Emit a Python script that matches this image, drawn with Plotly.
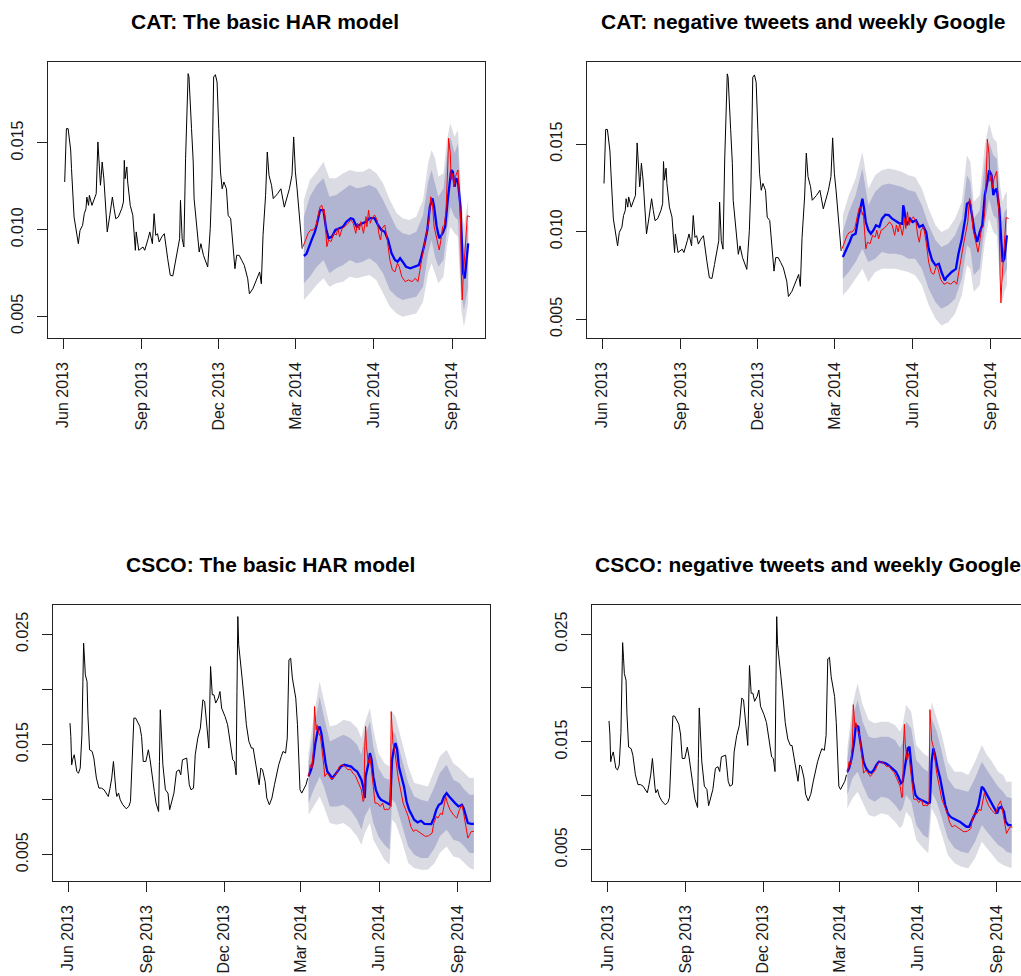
import plotly.graph_objects as go

W, H = 1021, 976

# ------------------------------------------------------------------ data
# CAT realised volatility (in-sample, black)
cat_hist = [
    ("2013-06-03", 0.01275), ("2013-06-04", 0.01448), ("2013-06-05", 0.01583), ("2013-06-07", 0.01583),
    ("2013-06-10", 0.01460), ("2013-06-11", 0.01352), ("2013-06-13", 0.01179), ("2013-06-14", 0.01073),
    ("2013-06-19", 0.00919), ("2013-06-21", 0.00996), ("2013-06-24", 0.01025), ("2013-06-26", 0.01092),
    ("2013-06-28", 0.01121), ("2013-06-29", 0.01188), ("2013-07-01", 0.01140), ("2013-07-02", 0.01198),
    ("2013-07-05", 0.01140), ("2013-07-08", 0.01188), ("2013-07-10", 0.01207), ("2013-07-12", 0.01506),
    ("2013-07-13", 0.01390), ("2013-07-15", 0.01256), ("2013-07-16", 0.01314), ("2013-07-17", 0.01390),
    ("2013-07-19", 0.01294), ("2013-07-21", 0.01160), ("2013-07-23", 0.00987), ("2013-07-26", 0.01083),
    ("2013-07-29", 0.01188), ("2013-07-31", 0.01121), ("2013-08-02", 0.01063), ("2013-08-05", 0.01073),
    ("2013-08-09", 0.01121), ("2013-08-11", 0.01160), ("2013-08-12", 0.01400), ("2013-08-13", 0.01294),
    ("2013-08-15", 0.01362), ("2013-08-16", 0.01275), ("2013-08-19", 0.01140), ("2013-08-22", 0.01083),
    ("2013-08-24", 0.00929), ("2013-08-25", 0.00881), ("2013-08-26", 0.00987), ("2013-08-29", 0.00881),
    ("2013-09-03", 0.00900), ("2013-09-05", 0.00881), ("2013-09-09", 0.00948), ("2013-09-11", 0.00987),
    ("2013-09-14", 0.00919), ("2013-09-16", 0.01092), ("2013-09-18", 0.00967), ("2013-09-20", 0.00977),
    ("2013-09-22", 0.00929), ("2013-09-25", 0.00958), ("2013-09-28", 0.00977), ("2013-09-30", 0.00890),
    ("2013-10-02", 0.00832), ("2013-10-05", 0.00737), ("2013-10-08", 0.00733), ("2013-10-11", 0.00813),
    ("2013-10-14", 0.00900), ("2013-10-16", 0.00948), ("2013-10-17", 0.01169), ("2013-10-19", 0.00948),
    ("2013-10-21", 0.00900), ("2013-10-23", 0.01409), ("2013-10-26", 0.01900), ("2013-10-27", 0.01881),
    ("2013-10-30", 0.01583), ("2013-11-01", 0.01390), ("2013-11-02", 0.01179), ("2013-11-05", 0.01025),
    ("2013-11-08", 0.00871), ("2013-11-10", 0.00919), ("2013-11-13", 0.00852), ("2013-11-18", 0.00785),
    ("2013-11-21", 0.01006), ("2013-11-23", 0.01294), ("2013-11-25", 0.01881), ("2013-11-27", 0.01894),
    ("2013-11-29", 0.01852), ("2013-12-01", 0.01583), ("2013-12-03", 0.01333), ("2013-12-05", 0.01236),
    ("2013-12-07", 0.01275), ("2013-12-10", 0.01236), ("2013-12-12", 0.01083), ("2013-12-15", 0.01063),
    ("2013-12-17", 0.00929), ("2013-12-20", 0.00775), ("2013-12-22", 0.00852), ("2013-12-25", 0.00852),
    ("2013-12-28", 0.00823), ("2013-12-31", 0.00794), ("2014-01-04", 0.00717), ("2014-01-06", 0.00630),
    ("2014-01-10", 0.00659), ("2014-01-15", 0.00727), ("2014-01-18", 0.00756), ("2014-01-20", 0.00688),
    ("2014-01-22", 0.00967), ("2014-01-25", 0.01198), ("2014-01-27", 0.01448), ("2014-01-29", 0.01314),
    ("2014-02-01", 0.01256), ("2014-02-03", 0.01179), ("2014-02-05", 0.01188), ("2014-02-08", 0.01207),
    ("2014-02-12", 0.01236), ("2014-02-16", 0.01130), ("2014-02-22", 0.01236), ("2014-02-25", 0.01314),
    ("2014-02-27", 0.01535), ("2014-03-01", 0.01333), ("2014-03-03", 0.01236), ("2014-03-06", 0.01044),
    ("2014-03-09", 0.00890),
]

# CAT realised volatility (out-of-sample, red)
cat_test = [
    ("2014-03-10", 0.00902), ("2014-03-13", 0.00940), ("2014-03-16", 0.00979), ("2014-03-19", 0.00998),
    ("2014-03-22", 0.00998), ("2014-03-25", 0.01017), ("2014-03-28", 0.01085), ("2014-03-30", 0.01132),
    ("2014-04-01", 0.01142), ("2014-04-03", 0.01094), ("2014-04-04", 0.01113), ("2014-04-06", 0.00940),
    ("2014-04-07", 0.00902), ("2014-04-09", 0.00940), ("2014-04-12", 0.00931), ("2014-04-15", 0.00979),
    ("2014-04-18", 0.00969), ("2014-04-20", 0.01008), ("2014-04-22", 0.00959), ("2014-04-25", 0.01008),
    ("2014-04-28", 0.01017), ("2014-05-02", 0.01037), ("2014-05-05", 0.01056), ("2014-05-08", 0.01037),
    ("2014-05-11", 0.00979), ("2014-05-13", 0.01037), ("2014-05-15", 0.00998), ("2014-05-17", 0.01046),
    ("2014-05-20", 0.00979), ("2014-05-23", 0.01075), ("2014-05-24", 0.01017), ("2014-05-26", 0.01113),
    ("2014-05-28", 0.01037), ("2014-05-30", 0.01066), ("2014-06-02", 0.01085), ("2014-06-05", 0.01056),
    ("2014-06-07", 0.00979), ("2014-06-09", 0.00940), ("2014-06-11", 0.01008), ("2014-06-14", 0.01027),
    ("2014-06-17", 0.00940), ("2014-06-20", 0.00825), ("2014-06-23", 0.00767), ("2014-06-26", 0.00757),
    ("2014-06-29", 0.00806), ("2014-07-01", 0.00786), ("2014-07-04", 0.00729), ("2014-07-08", 0.00700),
    ("2014-07-12", 0.00710), ("2014-07-16", 0.00700), ("2014-07-20", 0.00719), ("2014-07-23", 0.00700),
    ("2014-07-25", 0.00767), ("2014-07-28", 0.00844), ("2014-07-30", 0.00902), ("2014-08-02", 0.00979),
    ("2014-08-05", 0.01056), ("2014-08-07", 0.01190), ("2014-08-09", 0.01152), ("2014-08-11", 0.01017),
    ("2014-08-14", 0.00940), ("2014-08-17", 0.00883), ("2014-08-19", 0.00940), ("2014-08-21", 0.01017),
    ("2014-08-23", 0.01027), ("2014-08-25", 0.01113), ("2014-08-27", 0.01363), ("2014-08-28", 0.01527),
    ("2014-08-30", 0.01441), ("2014-08-31", 0.01287), ("2014-09-02", 0.01325), ("2014-09-03", 0.01248),
    ("2014-09-05", 0.01306), ("2014-09-08", 0.01344), ("2014-09-09", 0.01248), ("2014-09-11", 0.01075),
    ("2014-09-12", 0.00748), ("2014-09-13", 0.00594), ("2014-09-14", 0.00710), ("2014-09-16", 0.00883),
    ("2014-09-17", 0.00979), ("2014-09-19", 0.01080), ("2014-09-22", 0.01075),
]

# CAT forecast: basic HAR model (blue)
cat_har_mean = [
    ("2014-03-11", 0.00848), ("2014-03-14", 0.00860), ("2014-03-20", 0.00940), ("2014-03-24", 0.00988),
    ("2014-03-26", 0.01027), ("2014-03-30", 0.01113), ("2014-04-03", 0.01113), ("2014-04-06", 0.01008),
    ("2014-04-09", 0.00950), ("2014-04-13", 0.00960), ("2014-04-17", 0.00998), ("2014-04-21", 0.01008),
    ("2014-04-26", 0.01017), ("2014-04-30", 0.01046), ("2014-05-05", 0.01066), ("2014-05-08", 0.01060),
    ("2014-05-12", 0.01017), ("2014-05-17", 0.01033), ("2014-05-23", 0.01046), ("2014-05-27", 0.01066),
    ("2014-06-02", 0.01066), ("2014-06-06", 0.01027), ("2014-06-10", 0.00998), ("2014-06-14", 0.00988),
    ("2014-06-18", 0.00940), ("2014-06-22", 0.00864), ("2014-06-26", 0.00825), ("2014-06-29", 0.00815),
    ("2014-07-02", 0.00835), ("2014-07-05", 0.00815), ("2014-07-09", 0.00786), ("2014-07-14", 0.00777),
    ("2014-07-20", 0.00790), ("2014-07-24", 0.00796), ("2014-07-26", 0.00825), ("2014-07-30", 0.00902),
    ("2014-08-03", 0.00998), ("2014-08-06", 0.01132), ("2014-08-09", 0.01181), ("2014-08-11", 0.01132),
    ("2014-08-14", 0.01017), ("2014-08-17", 0.00950), ("2014-08-21", 0.00979), ("2014-08-24", 0.01017),
    ("2014-08-27", 0.01171), ("2014-08-30", 0.01287), ("2014-08-31", 0.01344), ("2014-09-02", 0.01334),
    ("2014-09-04", 0.01248), ("2014-09-06", 0.01296), ("2014-09-08", 0.01277), ("2014-09-11", 0.01132),
    ("2014-09-13", 0.00883), ("2014-09-14", 0.00748), ("2014-09-16", 0.00719), ("2014-09-18", 0.00825),
    ("2014-09-20", 0.00921),
]
# CAT basic HAR bands: date, 95% hi, 80% hi, 80% lo, 95% lo
cat_har_bands = [
    ("2014-03-11", 0.01171, 0.01075, 0.00691, 0.00594), ("2014-03-18", 0.01287, 0.01190, 0.00729, 0.00633),
    ("2014-03-26", 0.01334, 0.01258, 0.00786, 0.00681), ("2014-04-03", 0.01392, 0.01296, 0.00825, 0.00719),
    ("2014-04-10", 0.01296, 0.01190, 0.00748, 0.00671), ("2014-04-18", 0.01296, 0.01200, 0.00777, 0.00691),
    ("2014-04-26", 0.01325, 0.01229, 0.00796, 0.00700), ("2014-05-04", 0.01344, 0.01258, 0.00825, 0.00729),
    ("2014-05-12", 0.01334, 0.01239, 0.00806, 0.00719), ("2014-05-19", 0.01334, 0.01244, 0.00815, 0.00729),
    ("2014-05-27", 0.01354, 0.01258, 0.00835, 0.00738), ("2014-06-04", 0.01325, 0.01239, 0.00806, 0.00710),
    ("2014-06-12", 0.01268, 0.01171, 0.00748, 0.00633), ("2014-06-20", 0.01171, 0.01085, 0.00652, 0.00555),
    ("2014-06-28", 0.01094, 0.01008, 0.00613, 0.00517), ("2014-07-05", 0.01066, 0.00979, 0.00594, 0.00498),
    ("2014-07-13", 0.01056, 0.00969, 0.00604, 0.00508), ("2014-07-21", 0.01075, 0.00988, 0.00613, 0.00517),
    ("2014-07-29", 0.01171, 0.01085, 0.00671, 0.00584), ("2014-08-04", 0.01383, 0.01277, 0.00864, 0.00748),
    ("2014-08-08", 0.01460, 0.01344, 0.00940, 0.00806), ("2014-08-12", 0.01412, 0.01268, 0.00844, 0.00748),
    ("2014-08-16", 0.01306, 0.01190, 0.00786, 0.00691), ("2014-08-22", 0.01325, 0.01239, 0.00825, 0.00729),
    ("2014-08-26", 0.01517, 0.01421, 0.00998, 0.00902), ("2014-08-30", 0.01614, 0.01536, 0.01132, 0.01017),
    ("2014-09-04", 0.01536, 0.01441, 0.01075, 0.00979), ("2014-09-08", 0.01575, 0.01498, 0.01056, 0.00959),
    ("2014-09-12", 0.01171, 0.01056, 0.00633, 0.00536), ("2014-09-15", 0.01017, 0.00883, 0.00536, 0.00440),
    ("2014-09-18", 0.01113, 0.00979, 0.00613, 0.00517), ("2014-09-20", 0.01171, 0.01056, 0.00671, 0.00575),
]

# CAT forecast: negative tweets and weekly Google (blue)
cat_tw_mean = [
    ("2014-03-11", 0.00855), ("2014-03-15", 0.00894), ("2014-03-19", 0.00941), ("2014-03-22", 0.00979),
    ("2014-03-26", 0.00988), ("2014-03-29", 0.01074), ("2014-04-01", 0.01150), ("2014-04-03", 0.01188),
    ("2014-04-05", 0.01131), ("2014-04-07", 0.01055), ("2014-04-10", 0.01008), ("2014-04-13", 0.00988),
    ("2014-04-16", 0.01008), ("2014-04-19", 0.01037), ("2014-04-23", 0.01027), ("2014-04-26", 0.01074),
    ("2014-04-30", 0.01097), ("2014-05-04", 0.01094), ("2014-05-08", 0.01074), ("2014-05-12", 0.01059),
    ("2014-05-16", 0.01049), ("2014-05-20", 0.01045), ("2014-05-21", 0.01150), ("2014-05-22", 0.01131),
    ("2014-05-25", 0.01037), ("2014-05-29", 0.01074), ("2014-06-01", 0.01055), ("2014-06-05", 0.01065),
    ("2014-06-09", 0.01027), ("2014-06-13", 0.01037), ("2014-06-17", 0.00998), ("2014-06-20", 0.00903),
    ("2014-06-24", 0.00837), ("2014-06-28", 0.00808), ("2014-07-02", 0.00817), ("2014-07-05", 0.00770),
    ("2014-07-09", 0.00722), ("2014-07-11", 0.00741), ("2014-07-17", 0.00770), ("2014-07-22", 0.00788),
    ("2014-07-25", 0.00874), ("2014-07-29", 0.00960), ("2014-08-02", 0.01074), ("2014-08-04", 0.01159),
    ("2014-08-07", 0.01169), ("2014-08-10", 0.01093), ("2014-08-13", 0.00998), ("2014-08-16", 0.00941),
    ("2014-08-19", 0.00998), ("2014-08-22", 0.01037), ("2014-08-25", 0.01208), ("2014-08-28", 0.01283),
    ("2014-08-30", 0.01350), ("2014-09-02", 0.01322), ("2014-09-04", 0.01208), ("2014-09-06", 0.01236),
    ("2014-09-08", 0.01245), ("2014-09-11", 0.01131), ("2014-09-13", 0.00979), ("2014-09-15", 0.00827),
    ("2014-09-17", 0.00846), ("2014-09-19", 0.00941), ("2014-09-20", 0.00979),
]
cat_tw_bands = [
    ("2014-03-11", 0.01094, 0.00998, 0.00732, 0.00637), ("2014-03-18", 0.01208, 0.01112, 0.00770, 0.00674),
    ("2014-03-26", 0.01303, 0.01208, 0.00827, 0.00732), ("2014-04-03", 0.01455, 0.01360, 0.00903, 0.00789),
    ("2014-04-10", 0.01245, 0.01151, 0.00827, 0.00713), ("2014-04-18", 0.01322, 0.01227, 0.00846, 0.00770),
    ("2014-04-26", 0.01351, 0.01265, 0.00884, 0.00789), ("2014-05-04", 0.01360, 0.01274, 0.00874, 0.00789),
    ("2014-05-12", 0.01351, 0.01265, 0.00874, 0.00789), ("2014-05-20", 0.01341, 0.01255, 0.00865, 0.00779),
    ("2014-05-27", 0.01322, 0.01236, 0.00846, 0.00770), ("2014-06-04", 0.01312, 0.01227, 0.00846, 0.00751),
    ("2014-06-12", 0.01245, 0.01151, 0.00789, 0.00694), ("2014-06-20", 0.01131, 0.01036, 0.00674, 0.00580),
    ("2014-06-28", 0.01036, 0.00951, 0.00598, 0.00503), ("2014-07-05", 0.00998, 0.00913, 0.00560, 0.00465),
    ("2014-07-13", 0.01017, 0.00931, 0.00580, 0.00484), ("2014-07-21", 0.01074, 0.00979, 0.00617, 0.00532),
    ("2014-07-29", 0.01170, 0.01074, 0.00732, 0.00637), ("2014-08-04", 0.01436, 0.01322, 0.00922, 0.00808),
    ("2014-08-08", 0.01398, 0.01284, 0.00903, 0.00789), ("2014-08-12", 0.01170, 0.01074, 0.00751, 0.00656),
    ("2014-08-19", 0.01208, 0.01122, 0.00789, 0.00694), ("2014-08-25", 0.01493, 0.01398, 0.01036, 0.00941),
    ("2014-08-30", 0.01617, 0.01512, 0.01188, 0.01074), ("2014-09-04", 0.01531, 0.01436, 0.01094, 0.00998),
    ("2014-09-08", 0.01512, 0.01417, 0.01074, 0.00979), ("2014-09-12", 0.01265, 0.01170, 0.00827, 0.00713),
    ("2014-09-15", 0.01170, 0.01055, 0.00713, 0.00598), ("2014-09-17", 0.01208, 0.01112, 0.00751, 0.00656),
    ("2014-09-20", 0.01227, 0.01131, 0.00789, 0.00694),
]

# CSCO realised volatility (in-sample, black)
csco_hist = [
    ("2013-06-03", 0.01694), ("2013-06-04", 0.01573), ("2013-06-05", 0.01316), ("2013-06-06", 0.01361),
    ("2013-06-08", 0.01407), ("2013-06-10", 0.01316), ("2013-06-11", 0.01255), ("2013-06-13", 0.01240),
    ("2013-06-15", 0.01286), ("2013-06-17", 0.01588), ("2013-06-18", 0.02072), ("2013-06-19", 0.02420),
    ("2013-06-20", 0.02284), ("2013-06-21", 0.02133), ("2013-06-23", 0.02072), ("2013-06-24", 0.01769),
    ("2013-06-26", 0.01452), ("2013-06-29", 0.01437), ("2013-07-01", 0.01377), ("2013-07-04", 0.01195),
    ("2013-07-07", 0.01104), ("2013-07-10", 0.01104), ("2013-07-13", 0.01089), ("2013-07-16", 0.01059),
    ("2013-07-18", 0.01028), ("2013-07-20", 0.01104), ("2013-07-22", 0.01195), ("2013-07-24", 0.01346),
    ("2013-07-25", 0.01240), ("2013-07-27", 0.01074), ("2013-07-28", 0.01028), ("2013-07-30", 0.01059),
    ("2013-08-01", 0.00998), ("2013-08-04", 0.00953), ("2013-08-08", 0.00917), ("2013-08-11", 0.00937),
    ("2013-08-13", 0.00983), ("2013-08-15", 0.01377), ("2013-08-17", 0.01740), ("2013-08-19", 0.01740),
    ("2013-08-21", 0.01709), ("2013-08-24", 0.01664), ("2013-08-26", 0.01573), ("2013-08-28", 0.01346),
    ("2013-08-31", 0.01346), ("2013-09-03", 0.01452), ("2013-09-05", 0.01361), ("2013-09-07", 0.01225),
    ("2013-09-10", 0.01074), ("2013-09-12", 0.00968), ("2013-09-14", 0.00923), ("2013-09-15", 0.00892),
    ("2013-09-16", 0.01346), ("2013-09-17", 0.01815), ("2013-09-18", 0.01649), ("2013-09-20", 0.01316),
    ("2013-09-23", 0.01089), ("2013-09-26", 0.01059), ("2013-09-28", 0.00908), ("2013-10-01", 0.01014),
    ("2013-10-03", 0.01059), ("2013-10-06", 0.01255), ("2013-10-09", 0.01270), ("2013-10-11", 0.01225),
    ("2013-10-13", 0.01361), ("2013-10-18", 0.01377), ("2013-10-21", 0.01135), ("2013-10-23", 0.01089),
    ("2013-10-26", 0.01104), ("2013-10-28", 0.01407), ("2013-10-31", 0.01558), ("2013-11-03", 0.01649),
    ("2013-11-06", 0.01906), ("2013-11-08", 0.01891), ("2013-11-11", 0.01618), ("2013-11-13", 0.01467),
    ("2013-11-15", 0.02208), ("2013-11-17", 0.01951), ("2013-11-19", 0.01951), ("2013-11-21", 0.01876),
    ("2013-11-24", 0.01921), ("2013-11-26", 0.01981), ("2013-11-28", 0.01830), ("2013-11-30", 0.01799),
    ("2013-12-02", 0.01754), ("2013-12-05", 0.01679), ("2013-12-08", 0.01497), ("2013-12-11", 0.01361),
    ("2013-12-13", 0.01346), ("2013-12-15", 0.01225), ("2013-12-16", 0.01980), ("2013-12-17", 0.02661),
    ("2013-12-18", 0.02405), ("2013-12-20", 0.02223), ("2013-12-22", 0.02103), ("2013-12-25", 0.01860),
    ("2013-12-27", 0.01679), ("2013-12-30", 0.01527), ("2014-01-02", 0.01467), ("2014-01-04", 0.01467),
    ("2014-01-06", 0.01377), ("2014-01-09", 0.01255), ("2014-01-11", 0.01135), ("2014-01-13", 0.01286),
    ("2014-01-15", 0.01270), ("2014-01-18", 0.01165), ("2014-01-20", 0.01014), ("2014-01-23", 0.00953),
    ("2014-01-26", 0.01014), ("2014-01-29", 0.01135), ("2014-01-31", 0.01210), ("2014-02-03", 0.01316),
    ("2014-02-06", 0.01391), ("2014-02-08", 0.01437), ("2014-02-11", 0.01422), ("2014-02-13", 0.01558),
    ("2014-02-15", 0.02269), ("2014-02-17", 0.02284), ("2014-02-19", 0.02103), ("2014-02-21", 0.02012),
    ("2014-02-23", 0.01921), ("2014-02-25", 0.01679), ("2014-02-27", 0.01346), ("2014-02-28", 0.01089),
    ("2014-03-02", 0.01059), ("2014-03-05", 0.01104), ("2014-03-07", 0.01135), ("2014-03-09", 0.01195),
]

# CSCO realised volatility (out-of-sample, red)
csco_test = [
    ("2014-03-10", 0.01210), ("2014-03-12", 0.01316), ("2014-03-14", 0.01286), ("2014-03-16", 0.01482),
    ("2014-03-17", 0.01845), ("2014-03-19", 0.01634), ("2014-03-20", 0.01679), ("2014-03-22", 0.01604),
    ("2014-03-24", 0.01573), ("2014-03-26", 0.01452), ("2014-03-28", 0.01300), ("2014-03-29", 0.01210),
    ("2014-04-01", 0.01240), ("2014-04-03", 0.01216), ("2014-04-06", 0.01180), ("2014-04-09", 0.01210),
    ("2014-04-12", 0.01240), ("2014-04-15", 0.01300), ("2014-04-18", 0.01316), ("2014-04-22", 0.01300),
    ("2014-04-25", 0.01271), ("2014-04-28", 0.01277), ("2014-05-01", 0.01240), ("2014-05-04", 0.01216),
    ("2014-05-07", 0.01165), ("2014-05-09", 0.01135), ("2014-05-11", 0.01089), ("2014-05-13", 0.00983),
    ("2014-05-14", 0.00998), ("2014-05-15", 0.01482), ("2014-05-16", 0.01664), ("2014-05-17", 0.01482),
    ("2014-05-19", 0.01331), ("2014-05-21", 0.01391), ("2014-05-23", 0.01271), ("2014-05-25", 0.01120),
    ("2014-05-27", 0.00968), ("2014-05-30", 0.00968), ("2014-06-02", 0.00938), ("2014-06-05", 0.00968),
    ("2014-06-07", 0.00908), ("2014-06-10", 0.00914), ("2014-06-12", 0.00908), ("2014-06-14", 0.00938),
    ("2014-06-15", 0.01799), ("2014-06-16", 0.01694), ("2014-06-17", 0.01513), ("2014-06-19", 0.01452),
    ("2014-06-21", 0.01331), ("2014-06-23", 0.01210), ("2014-06-26", 0.01089), ("2014-06-29", 0.00968),
    ("2014-07-02", 0.00908), ("2014-07-05", 0.00847), ("2014-07-08", 0.00757), ("2014-07-11", 0.00711),
    ("2014-07-14", 0.00726), ("2014-07-17", 0.00711), ("2014-07-21", 0.00687), ("2014-07-25", 0.00666),
    ("2014-07-29", 0.00672), ("2014-08-02", 0.00696), ("2014-08-04", 0.00787), ("2014-08-07", 0.00847),
    ("2014-08-09", 0.00832), ("2014-08-12", 0.00878), ("2014-08-14", 0.00862), ("2014-08-17", 0.00968),
    ("2014-08-18", 0.01028), ("2014-08-20", 0.00968), ("2014-08-23", 0.00908), ("2014-08-27", 0.00862),
    ("2014-08-31", 0.00832), ("2014-09-03", 0.00908), ("2014-09-06", 0.00953), ("2014-09-08", 0.00878),
    ("2014-09-11", 0.00726), ("2014-09-13", 0.00651), ("2014-09-15", 0.00681), ("2014-09-17", 0.00711),
    ("2014-09-20", 0.00711),
]

# CSCO forecast: basic HAR model (blue)
csco_har_mean = [
    ("2014-03-10", 0.01210), ("2014-03-13", 0.01271), ("2014-03-15", 0.01331), ("2014-03-18", 0.01513),
    ("2014-03-21", 0.01634), ("2014-03-23", 0.01664), ("2014-03-25", 0.01604), ("2014-03-27", 0.01482),
    ("2014-03-30", 0.01331), ("2014-04-01", 0.01255), ("2014-04-04", 0.01225), ("2014-04-07", 0.01195),
    ("2014-04-10", 0.01225), ("2014-04-13", 0.01255), ("2014-04-17", 0.01300), ("2014-04-21", 0.01316),
    ("2014-04-25", 0.01306), ("2014-04-29", 0.01300), ("2014-05-02", 0.01277), ("2014-05-06", 0.01255),
    ("2014-05-08", 0.01225), ("2014-05-11", 0.01180), ("2014-05-13", 0.01120), ("2014-05-15", 0.01014),
    ("2014-05-16", 0.01210), ("2014-05-19", 0.01316), ("2014-05-21", 0.01422), ("2014-05-23", 0.01361),
    ("2014-05-25", 0.01210), ("2014-05-28", 0.01089), ("2014-05-31", 0.01028), ("2014-06-03", 0.00998),
    ("2014-06-07", 0.00983), ("2014-06-11", 0.00962), ("2014-06-14", 0.00953), ("2014-06-15", 0.01180),
    ("2014-06-16", 0.01361), ("2014-06-18", 0.01452), ("2014-06-20", 0.01513), ("2014-06-22", 0.01452),
    ("2014-06-24", 0.01300), ("2014-06-27", 0.01210), ("2014-06-30", 0.01120), ("2014-07-03", 0.00983),
    ("2014-07-06", 0.00908), ("2014-07-09", 0.00862), ("2014-07-12", 0.00817), ("2014-07-16", 0.00793),
    ("2014-07-20", 0.00808), ("2014-07-24", 0.00780), ("2014-07-28", 0.00778), ("2014-08-01", 0.00778),
    ("2014-08-04", 0.00832), ("2014-08-07", 0.00908), ("2014-08-10", 0.00953), ("2014-08-13", 0.00968),
    ("2014-08-16", 0.01028), ("2014-08-19", 0.01059), ("2014-08-22", 0.01028), ("2014-08-25", 0.00998),
    ("2014-08-29", 0.00968), ("2014-09-02", 0.00938), ("2014-09-06", 0.00953), ("2014-09-08", 0.00923),
    ("2014-09-11", 0.00847), ("2014-09-13", 0.00787), ("2014-09-17", 0.00780), ("2014-09-20", 0.00780),
]
csco_har_bands = [
    ("2014-03-10", 0.01422, 0.01346, 0.00968, 0.00862), ("2014-03-16", 0.01754, 0.01604, 0.01089, 0.00938),
    ("2014-03-23", 0.02072, 0.01936, 0.01210, 0.01028), ("2014-03-28", 0.01906, 0.01754, 0.01119, 0.00938),
    ("2014-04-04", 0.01664, 0.01527, 0.00938, 0.00787), ("2014-04-12", 0.01679, 0.01558, 0.00938, 0.00772),
    ("2014-04-20", 0.01724, 0.01588, 0.00953, 0.00787), ("2014-04-28", 0.01709, 0.01558, 0.00908, 0.00742),
    ("2014-05-06", 0.01649, 0.01498, 0.00817, 0.00665), ("2014-05-11", 0.01558, 0.01407, 0.00726, 0.00590),
    ("2014-05-15", 0.01694, 0.01573, 0.00847, 0.00696), ("2014-05-21", 0.01831, 0.01709, 0.00938, 0.00787),
    ("2014-05-25", 0.01634, 0.01482, 0.00787, 0.00635), ("2014-05-31", 0.01422, 0.01286, 0.00665, 0.00545),
    ("2014-06-07", 0.01331, 0.01195, 0.00590, 0.00454), ("2014-06-13", 0.01301, 0.01180, 0.00545, 0.00409),
    ("2014-06-16", 0.01800, 0.01634, 0.00998, 0.00817), ("2014-06-20", 0.01754, 0.01588, 0.00968, 0.00787),
    ("2014-06-27", 0.01543, 0.01391, 0.00787, 0.00635), ("2014-07-05", 0.01301, 0.01150, 0.00575, 0.00424),
    ("2014-07-12", 0.01150, 0.01028, 0.00499, 0.00379), ("2014-07-20", 0.01135, 0.00998, 0.00469, 0.00363),
    ("2014-07-28", 0.01119, 0.00983, 0.00469, 0.00363), ("2014-08-05", 0.01271, 0.01119, 0.00560, 0.00424),
    ("2014-08-11", 0.01391, 0.01241, 0.00665, 0.00515), ("2014-08-19", 0.01452, 0.01316, 0.00726, 0.00575),
    ("2014-08-27", 0.01331, 0.01180, 0.00635, 0.00484), ("2014-09-03", 0.01286, 0.01150, 0.00620, 0.00469),
    ("2014-09-09", 0.01241, 0.01089, 0.00575, 0.00424), ("2014-09-15", 0.01195, 0.01044, 0.00515, 0.00379),
    ("2014-09-20", 0.01195, 0.01044, 0.00515, 0.00363),
]

# CSCO forecast: negative tweets and weekly Google (blue)
csco_tw_mean = [
    ("2014-03-10", 0.01223), ("2014-03-12", 0.01255), ("2014-03-15", 0.01348), ("2014-03-18", 0.01501),
    ("2014-03-20", 0.01656), ("2014-03-23", 0.01640), ("2014-03-24", 0.01564), ("2014-03-27", 0.01409),
    ("2014-03-29", 0.01316), ("2014-04-01", 0.01255), ("2014-04-04", 0.01223), ("2014-04-07", 0.01214),
    ("2014-04-10", 0.01239), ("2014-04-13", 0.01285), ("2014-04-16", 0.01316), ("2014-04-20", 0.01310),
    ("2014-04-24", 0.01301), ("2014-04-28", 0.01279), ("2014-05-02", 0.01255), ("2014-05-06", 0.01223),
    ("2014-05-09", 0.01177), ("2014-05-12", 0.01116), ("2014-05-14", 0.01131), ("2014-05-16", 0.01239),
    ("2014-05-18", 0.01316), ("2014-05-20", 0.01440), ("2014-05-22", 0.01455), ("2014-05-24", 0.01316),
    ("2014-05-26", 0.01131), ("2014-05-29", 0.01007), ("2014-06-01", 0.00977), ("2014-06-05", 0.00961),
    ("2014-06-09", 0.00945), ("2014-06-13", 0.00930), ("2014-06-15", 0.00940), ("2014-06-16", 0.01100),
    ("2014-06-17", 0.01316), ("2014-06-19", 0.01440), ("2014-06-21", 0.01378), ("2014-06-24", 0.01255),
    ("2014-06-27", 0.01162), ("2014-06-30", 0.01038), ("2014-07-03", 0.00915), ("2014-07-06", 0.00837),
    ("2014-07-09", 0.00806), ("2014-07-12", 0.00791), ("2014-07-16", 0.00776), ("2014-07-20", 0.00760),
    ("2014-07-24", 0.00736), ("2014-07-28", 0.00713), ("2014-07-31", 0.00713), ("2014-08-02", 0.00745),
    ("2014-08-05", 0.00791), ("2014-08-08", 0.00852), ("2014-08-11", 0.00915), ("2014-08-13", 0.00991),
    ("2014-08-15", 0.01084), ("2014-08-17", 0.01069), ("2014-08-20", 0.01023), ("2014-08-23", 0.00977),
    ("2014-08-27", 0.00930), ("2014-08-30", 0.00884), ("2014-09-02", 0.00837), ("2014-09-04", 0.00884),
    ("2014-09-07", 0.00899), ("2014-09-10", 0.00852), ("2014-09-12", 0.00760), ("2014-09-15", 0.00729),
    ("2014-09-19", 0.00729),
]
csco_tw_bands = [
    ("2014-03-10", 0.01440, 0.01347, 0.01007, 0.00884), ("2014-03-16", 0.01842, 0.01718, 0.01162, 0.00977),
    ("2014-03-22", 0.02043, 0.01888, 0.01223, 0.01038), ("2014-03-28", 0.01842, 0.01687, 0.01100, 0.00945),
    ("2014-04-04", 0.01703, 0.01548, 0.00977, 0.00822), ("2014-04-11", 0.01672, 0.01533, 0.00945, 0.00806),
    ("2014-04-19", 0.01687, 0.01548, 0.00992, 0.00838), ("2014-04-27", 0.01687, 0.01548, 0.00977, 0.00822),
    ("2014-05-05", 0.01656, 0.01517, 0.00915, 0.00760), ("2014-05-11", 0.01594, 0.01440, 0.00853, 0.00699),
    ("2014-05-14", 0.01656, 0.01501, 0.00884, 0.00729), ("2014-05-18", 0.01842, 0.01687, 0.01007, 0.00853),
    ("2014-05-24", 0.01780, 0.01626, 0.00945, 0.00791), ("2014-05-30", 0.01471, 0.01332, 0.00729, 0.00590),
    ("2014-06-07", 0.01394, 0.01255, 0.00636, 0.00513), ("2014-06-13", 0.01362, 0.01223, 0.00606, 0.00467),
    ("2014-06-17", 0.01872, 0.01718, 0.01038, 0.00884), ("2014-06-23", 0.01718, 0.01594, 0.00945, 0.00791),
    ("2014-06-29", 0.01564, 0.01409, 0.00791, 0.00636), ("2014-07-06", 0.01316, 0.01162, 0.00606, 0.00451),
    ("2014-07-14", 0.01223, 0.01069, 0.00513, 0.00374), ("2014-07-22", 0.01223, 0.01054, 0.00482, 0.00343),
    ("2014-07-30", 0.01193, 0.01038, 0.00467, 0.00328), ("2014-08-07", 0.01316, 0.01162, 0.00574, 0.00420),
    ("2014-08-15", 0.01471, 0.01316, 0.00729, 0.00574), ("2014-08-21", 0.01378, 0.01239, 0.00667, 0.00513),
    ("2014-08-27", 0.01316, 0.01162, 0.00606, 0.00451), ("2014-09-03", 0.01223, 0.01084, 0.00544, 0.00389),
    ("2014-09-09", 0.01193, 0.01038, 0.00513, 0.00358), ("2014-09-13", 0.01131, 0.00992, 0.00482, 0.00343),
    ("2014-09-19", 0.01131, 0.00977, 0.00467, 0.00328),
]

titles = [
    "CAT: The basic HAR model",
    "CAT: negative tweets and weekly Google",
    "CSCO: The basic HAR model",
    "CSCO: negative tweets and weekly Google",
]
x_tick_dates = ["2013-06-01", "2013-09-01", "2013-12-01", "2014-03-01", "2014-06-01", "2014-09-01"]
x_tick_text = ["Jun 2013", "Sep 2013", "Dec 2013", "Mar 2014", "Jun 2014", "Sep 2014"]
cat_y_ticks = [0.005, 0.010, 0.015]
cat_y_text = ["0.005", "0.010", "0.015"]
csco_y_ticks = [0.005, 0.010, 0.015, 0.020, 0.025]
csco_y_text = ["0.005", "", "0.015", "", "0.025"]

# ------------------------------------------------------------------ layout geometry (pixels)
panels = [
    dict(box=(48.3, 61.7, 485.0, 337.7), xr=["2013-05-14 17:30", "2014-10-09 18:30"], yr=[0.003767, 0.01969],
         clip=False, hist=cat_hist, test=cat_test, mean=cat_har_mean, bands=cat_har_bands,
         yt=cat_y_ticks, ytt=cat_y_text, tx=265.0, ty=21.5),
    dict(box=(587.0, 61.7, 1021.0, 337.7), xr=["2013-05-14 00:00", "2014-10-06 14:00"], yr=[0.003952, 0.019694],
         clip=True, hist=cat_hist, test=cat_test, mean=cat_tw_mean, bands=cat_tw_bands,
         yt=cat_y_ticks, ytt=cat_y_text, tx=803.5, ty=21.5),
    dict(box=(53.3, 605.0, 490.0, 880.7), xr=["2013-05-14 10:00", "2014-10-08 23:00"], yr=[0.00264, 0.02766],
         clip=False, hist=csco_hist, test=csco_test, mean=csco_har_mean, bands=csco_har_bands,
         yt=csco_y_ticks, ytt=csco_y_text, tx=270.3, ty=564.5),
    dict(box=(592.0, 605.0, 1021.0, 880.7), xr=["2013-05-14 00:00", "2014-09-30 00:00"], yr=[0.00213, 0.02769],
         clip=True, hist=csco_hist, test=csco_test, mean=csco_tw_mean, bands=csco_tw_bands,
         yt=csco_y_ticks, ytt=csco_y_text, tx=808.3, ty=564.5),
]

OUTER = "#DBDBE3"
INNER = "#B1B5D1"
FONT = "Liberation Sans, Arial, Helvetica, sans-serif"

fig = go.Figure()
annotations = []
for i, p in enumerate(panels):
    k = "" if i == 0 else str(i + 1)
    xa, ya = "x" + k, "y" + k
    bd = [r[0] for r in p["bands"]]
    o_hi = [r[1] for r in p["bands"]]
    i_hi = [r[2] for r in p["bands"]]
    i_lo = [r[3] for r in p["bands"]]
    o_lo = [r[4] for r in p["bands"]]
    fig.add_trace(go.Scatter(x=[d for d, _ in p["hist"]], y=[v for _, v in p["hist"]], mode="lines",
                             line=dict(color="#000000", width=1), xaxis=xa, yaxis=ya, showlegend=False))
    fig.add_trace(go.Scatter(x=bd + bd[::-1], y=o_hi + o_lo[::-1], mode="lines", fill="toself",
                             fillcolor=OUTER, line=dict(width=0, color=OUTER), xaxis=xa, yaxis=ya,
                             showlegend=False))
    fig.add_trace(go.Scatter(x=bd + bd[::-1], y=i_hi + i_lo[::-1], mode="lines", fill="toself",
                             fillcolor=INNER, line=dict(width=0, color=INNER), xaxis=xa, yaxis=ya,
                             showlegend=False))
    fig.add_trace(go.Scatter(x=[d for d, _ in p["mean"]], y=[v for _, v in p["mean"]], mode="lines",
                             line=dict(color="#0000FF", width=2.3), xaxis=xa, yaxis=ya, showlegend=False))
    fig.add_trace(go.Scatter(x=[d for d, _ in p["test"]], y=[v for _, v in p["test"]], mode="lines",
                             line=dict(color="#FF0000", width=1), xaxis=xa, yaxis=ya, showlegend=False))

    x0, y0, x1, y1 = p["box"]
    common = dict(showgrid=False, zeroline=False, showline=True, linecolor="#222222", linewidth=1,
                  ticks="outside", ticklen=10, tickwidth=1, tickcolor="#222222", tickangle=-90,
                  tickfont=dict(family=FONT, size=16, color="#1a1a1a"))
    fig.layout["xaxis" + k] = dict(
        domain=[x0 / W, x1 / W], anchor=ya, type="date", range=p["xr"],
        tickmode="array", tickvals=x_tick_dates, ticktext=x_tick_text, mirror=True,
        ticklabelstandoff=7, **common)
    fig.layout["yaxis" + k] = dict(
        domain=[1 - y1 / H, 1 - y0 / H], anchor=xa, range=p["yr"],
        tickmode="array", tickvals=p["yt"], ticktext=p["ytt"], mirror=not p["clip"],
        ticklabelstandoff=8, **common)
    annotations.append(dict(text="<b>" + titles[i] + "</b>", x=p["tx"] / W, y=1 - p["ty"] / H,
                            xref="paper", yref="paper", xanchor="center", yanchor="middle",
                            showarrow=False, font=dict(family=FONT, size=21, color="#000000")))

fig.update_layout(width=W, height=H, margin=dict(l=0, r=0, t=0, b=0), paper_bgcolor="white",
                  plot_bgcolor="white", annotations=annotations, showlegend=False)
fig.write_html("out.html",
               config={"displayModeBar": False, "staticPlot": True},
               post_script="document.body.style.margin='0';document.body.style.padding='0';"
                           "document.body.style.overflow='hidden';")
